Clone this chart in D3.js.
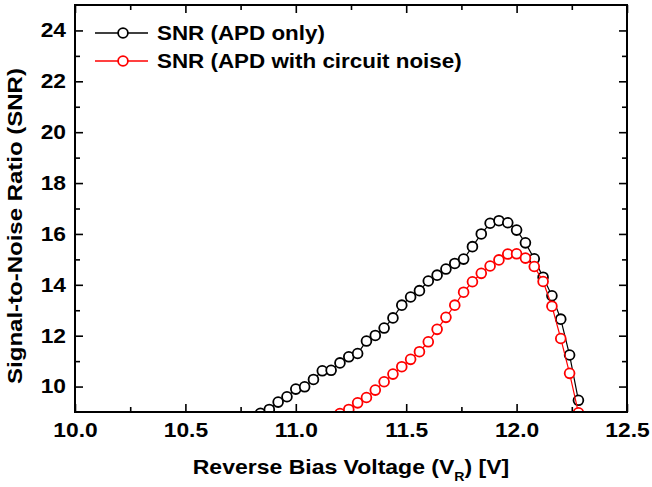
<!DOCTYPE html>
<html lang="en">
<head>
<meta charset="utf-8">
<title>SNR vs reverse bias voltage</title>
<script src="https://cdn.jsdelivr.net/npm/d3@7"></script>
<style>
  body { margin: 0; background: #fff; }
  svg text { font-family: "Liberation Sans", Arial, sans-serif; font-weight: bold; fill: #000; }
</style>
</head>
<body>
<svg id="chart"></svg>
<script>
// data
var voltsApd = [10.84, 10.88, 10.92, 10.96, 11.00, 11.04, 11.08, 11.12, 11.16, 11.20,
                11.24, 11.28, 11.32, 11.36, 11.40, 11.44, 11.48, 11.52, 11.56, 11.60,
                11.64, 11.68, 11.72, 11.76, 11.80, 11.84, 11.88, 11.92, 11.96, 12.00,
                12.04, 12.08, 12.12, 12.16, 12.20, 12.24, 12.28];
var snrApd = [8.95, 9.10, 9.39, 9.60, 9.90, 9.99, 10.28, 10.62, 10.64, 10.93,
              11.17, 11.30, 11.79, 12.01, 12.30, 12.70, 13.20, 13.52, 13.77, 14.15,
              14.38, 14.62, 14.84, 15.01, 15.50, 16.00, 16.42, 16.52, 16.44, 16.15,
              15.65, 15.02, 14.30, 13.57, 12.65, 11.24, 9.46];

var voltsCkt = [11.20, 11.24, 11.28, 11.32, 11.36, 11.40, 11.44, 11.48, 11.52, 11.56,
                11.60, 11.64, 11.68, 11.72, 11.76, 11.80, 11.84, 11.88, 11.92, 11.96,
                12.00, 12.04, 12.08, 12.12, 12.16, 12.20, 12.24, 12.28];
var snrCkt = [8.94, 9.10, 9.36, 9.57, 9.86, 10.19, 10.49, 10.78, 11.07, 11.37,
              11.76, 12.25, 12.72, 13.20, 13.71, 14.12, 14.45, 14.74, 14.98, 15.21,
              15.22, 15.05, 14.72, 14.13, 13.16, 11.89, 10.52, 8.97];

var seriesNames = ["SNR (APD only)", "SNR (APD with circuit noise)"];
var seriesColors = ["#000000", "#ff0000"];

var xTicks = [10.0, 10.5, 11.0, 11.5, 12.0, 12.5];
var xMinor = [10.25, 10.75, 11.25, 11.75, 12.25];
var yTicks = [10, 12, 14, 16, 18, 20, 22, 24];
var yMinor = [11, 13, 15, 17, 19, 21, 23];

var W = 652, H = 487;
var margin = {top: 5, right: 25, bottom: 75, left: 75};
var iw = W - margin.left - margin.right;
var ih = H - margin.top - margin.bottom;
var stretchK = 1.14;   // reference text is a bit wider than Arial

var svg = d3.select("#chart").attr("width", W).attr("height", H);
var g = svg.append("g").attr("transform", "translate(" + margin.left + "," + margin.top + ")");

var x = d3.scaleLinear().domain([10, 12.5]).range([0, iw]);
var y = d3.scaleLinear().domain([9, 25]).range([ih, 0]);

// widen text horizontally about its anchor
function stretch(sel, k) {
    sel.each(function() {
        var t = d3.select(this);
        var x0 = +t.attr("x") || 0;
        t.attr("x", x0 / k).attr("transform", "scale(" + k + ",1)");
    });
}

function styleAxis(a, labels) {
    a.select(".domain").remove();
    a.selectAll("line").attr("stroke", "#000").attr("stroke-width", 1.6);
    if (!labels) a.selectAll("text").remove();
    else a.selectAll("text").style("font-size", "20px").style("font-family", null);
}

// major + minor ticks on all four sides, pointing inward
var bx = g.append("g").attr("transform", "translate(0," + ih + ")")
    .call(d3.axisBottom(x).tickValues(xTicks).tickFormat(d3.format(".1f")).tickSizeInner(-8).tickSizeOuter(0).tickPadding(11));
styleAxis(bx, true);
stretch(bx.selectAll("text"), stretchK);
var bxm = g.append("g").attr("transform", "translate(0," + ih + ")")
    .call(d3.axisBottom(x).tickValues(xMinor).tickSizeInner(-5).tickSizeOuter(0));
styleAxis(bxm, false);
styleAxis(g.append("g").call(d3.axisTop(x).tickValues(xTicks).tickSizeInner(-8).tickSizeOuter(0)), false);
styleAxis(g.append("g").call(d3.axisTop(x).tickValues(xMinor).tickSizeInner(-5).tickSizeOuter(0)), false);

var ly = g.append("g")
    .call(d3.axisLeft(y).tickValues(yTicks).tickFormat(d3.format("d")).tickSizeInner(-8).tickSizeOuter(0).tickPadding(9));
styleAxis(ly, true);
stretch(ly.selectAll("text"), stretchK);
styleAxis(g.append("g").call(d3.axisLeft(y).tickValues(yMinor).tickSizeInner(-5).tickSizeOuter(0)), false);
styleAxis(g.append("g").attr("transform", "translate(" + iw + ",0)")
    .call(d3.axisRight(y).tickValues(yTicks).tickSizeInner(-8).tickSizeOuter(0)), false);
styleAxis(g.append("g").attr("transform", "translate(" + iw + ",0)")
    .call(d3.axisRight(y).tickValues(yMinor).tickSizeInner(-5).tickSizeOuter(0)), false);

// clip the data to the frame
g.append("clipPath").attr("id", "plotclip")
  .append("rect").attr("width", iw).attr("height", ih);

var series = [
    {name: seriesNames[0], color: seriesColors[0], pts: voltsApd.map(function(v, i) { return [v, snrApd[i]]; })},
    {name: seriesNames[1], color: seriesColors[1], pts: voltsCkt.map(function(v, i) { return [v, snrCkt[i]]; })}
];

var line = d3.line()
    .x(function(d) { return x(d[0]); })
    .y(function(d) { return y(d[1]); });

var plot = g.append("g").attr("clip-path", "url(#plotclip)");
series.forEach(function(s) {
    var sg = plot.append("g");
    sg.append("path")
        .attr("d", line(s.pts))
        .attr("fill", "none")
        .attr("stroke", s.color)
        .attr("stroke-width", 1.2);
    sg.selectAll("circle")
        .data(s.pts)
        .enter().append("circle")
        .attr("cx", function(d) { return x(d[0]); })
        .attr("cy", function(d) { return y(d[1]); })
        .attr("r", 4.9)
        .attr("fill", "#fff")
        .attr("stroke", s.color)
        .attr("stroke-width", 1.8);
});

// frame
g.append("rect")
    .attr("width", iw).attr("height", ih)
    .attr("fill", "none").attr("stroke", "#000").attr("stroke-width", 2);

// legend
var leg = g.append("g").attr("transform", "translate(20,28)");
series.forEach(function(s, i) {
    var row = leg.append("g").attr("transform", "translate(0," + (i * 28) + ")");
    row.append("line").attr("x1", 0).attr("x2", 53)
        .attr("stroke", s.color).attr("stroke-width", 1.4);
    row.append("circle").attr("cx", 28).attr("r", 4.9)
        .attr("fill", "#fff").attr("stroke", s.color).attr("stroke-width", 1.8);
    var t = row.append("text").attr("x", 62).attr("y", 7)
        .style("font-size", "20px").text(s.name);
    stretch(t, 1.12);
});

// axis titles
var xt = svg.append("text")
    .attr("text-anchor", "middle")
    .attr("transform", "translate(" + (margin.left + iw / 2) + ",474) scale(" + 1.18 + ",1)")
    .style("font-size", "19.5px");
xt.append("tspan").text("Reverse Bias Voltage (V");
xt.append("tspan").attr("dy", 7).style("font-size", "12px").text("R");
xt.append("tspan").attr("dy", -7).text(") [V]");

svg.append("text")
    .attr("text-anchor", "middle")
    .attr("transform", "translate(22,226) rotate(-90) scale(1.2,1)")
    .style("font-size", "20px")
    .text("Signal-to-Noise Ratio (SNR)");
</script>
</body>
</html>
